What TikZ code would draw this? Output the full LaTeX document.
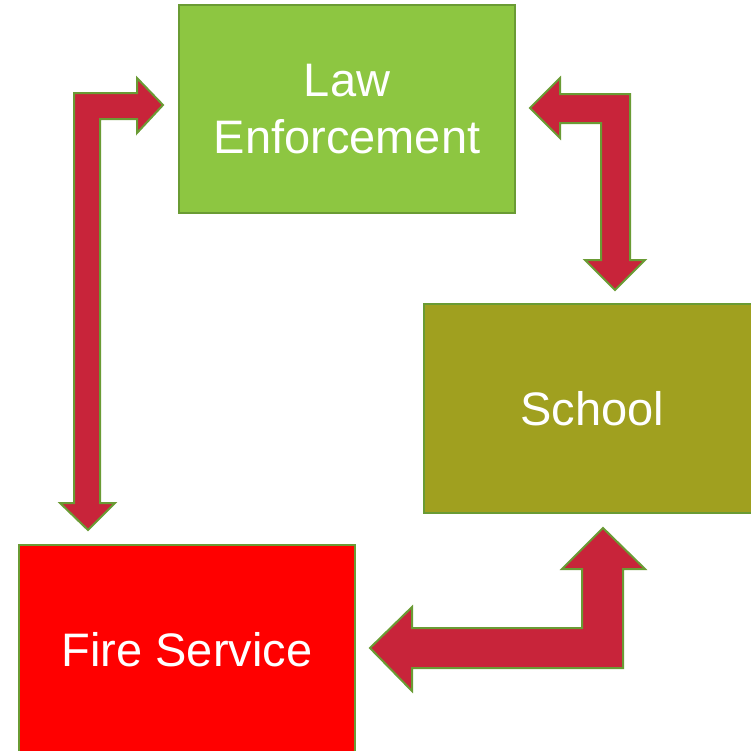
\documentclass[tikz,border=0pt]{standalone}
\usepackage{fontspec}
\setmainfont{Liberation Sans}
\definecolor{lawgreen}{HTML}{8DC641}
\definecolor{schoololive}{HTML}{A0A01F}
\definecolor{firered}{HTML}{FF0000}
\definecolor{edgegreen}{HTML}{6A9B34}
\definecolor{arrowred}{HTML}{C8243A}
\tikzset{
  agency/.style={draw=edgegreen, line width=2pt, text=white, align=center,
    font=\fontsize{47}{57}\selectfont, inner sep=0pt},
  blockarrow/.style={draw=edgegreen, line width=2pt, fill=arrowred, line join=miter}
}
\begin{document}
\begin{tikzpicture}[x=1pt,y=-1pt]
\clip (0,0) rectangle (751,750);
\fill[white] (0,0) rectangle (751,750);
\node[agency, fill=lawgreen, minimum width=336pt, minimum height=208pt] (law) at (347,109) {Law\\Enforcement};
\node[agency, fill=schoololive, minimum width=336pt, minimum height=209pt] (school) at (592,408.5) {School};
\node[agency, fill=firered, minimum width=336pt, minimum height=210pt] (fire) at (187,650) {Fire Service};
% Law <-> Fire
\draw[blockarrow] (163,105) -- (137,133) -- (137,119) -- (100,119) -- (100,503) -- (115,503) -- (88,530) -- (60,503) -- (74,503) -- (74,93) -- (137,93) -- (137,78) -- cycle;
% Law <-> School
\draw[blockarrow] (530,108) -- (560,78) -- (560,94) -- (630,94) -- (630,260) -- (645,260) -- (615,290) -- (585,260) -- (601,260) -- (601,123) -- (560,123) -- (560,138) -- cycle;
% School <-> Fire
\draw[blockarrow] (603,528) -- (645,569) -- (623,569) -- (623,668) -- (412,668) -- (412,691) -- (370,648) -- (412,607) -- (412,628) -- (582,628) -- (582,569) -- (562,569) -- cycle;
\end{tikzpicture}
\end{document}
